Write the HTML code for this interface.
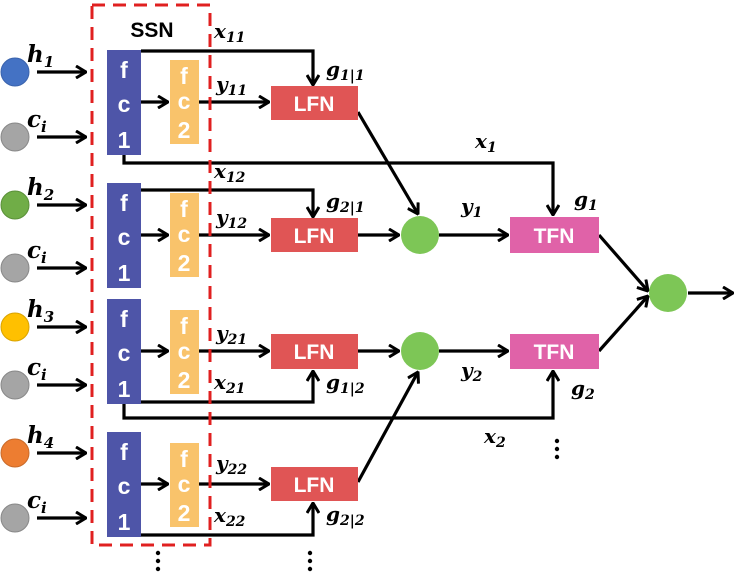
<!DOCTYPE html>
<html><head><meta charset="utf-8"><style>
html,body{margin:0;padding:0;background:#fff}
svg{display:block}
.m{font-family:"DejaVu Serif","Liberation Serif",serif;font-style:italic;font-weight:bold;fill:#000}
.w{font-family:"Liberation Sans",sans-serif;font-weight:bold;fill:#fff}
</style></head><body>
<svg width="737" height="575" viewBox="0 0 737 575" xmlns="http://www.w3.org/2000/svg">
<defs>
<marker id="a" markerWidth="12" markerHeight="14" refX="11" refY="7" orient="auto" markerUnits="userSpaceOnUse">
<path d="M1,1 L11,7 L1,13" fill="none" stroke="#000" stroke-width="3"/>
</marker>
</defs>
<g stroke="#000" stroke-width="3.2" fill="none">
<line x1="37" y1="72" x2="86" y2="72" marker-end="url(#a)"/>
<line x1="37" y1="137" x2="86" y2="137" marker-end="url(#a)"/>
<line x1="37" y1="205" x2="86" y2="205" marker-end="url(#a)"/>
<line x1="37" y1="268" x2="86" y2="268" marker-end="url(#a)"/>
<line x1="37" y1="327" x2="86" y2="327" marker-end="url(#a)"/>
<line x1="37" y1="385" x2="86" y2="385" marker-end="url(#a)"/>
<line x1="37" y1="453" x2="86" y2="453" marker-end="url(#a)"/>
<line x1="37" y1="518" x2="86" y2="518" marker-end="url(#a)"/>
<line x1="141" y1="102" x2="168" y2="102" marker-end="url(#a)"/>
<line x1="141" y1="235" x2="168" y2="235" marker-end="url(#a)"/>
<line x1="141" y1="351" x2="168" y2="351" marker-end="url(#a)"/>
<line x1="141" y1="484" x2="168" y2="484" marker-end="url(#a)"/>
<line x1="199" y1="102" x2="269" y2="102" marker-end="url(#a)"/>
<line x1="199" y1="235" x2="269" y2="235" marker-end="url(#a)"/>
<line x1="199" y1="351" x2="269" y2="351" marker-end="url(#a)"/>
<line x1="199" y1="484" x2="269" y2="484" marker-end="url(#a)"/>
<polyline points="141,51 313,51 313,85" marker-end="url(#a)"/>
<polyline points="141,190 313,190 313,217" marker-end="url(#a)"/>
<polyline points="141,402 313,402 313,371" marker-end="url(#a)"/>
<polyline points="141,535 313,535 313,503" marker-end="url(#a)"/>
<polyline points="124,155 124,163 553,163 553,215" marker-end="url(#a)"/>
<polyline points="124,404 124,418 553,418 553,371" marker-end="url(#a)"/>
<line x1="358" y1="112" x2="418" y2="214" marker-end="url(#a)"/>
<line x1="358" y1="235" x2="399" y2="235" marker-end="url(#a)"/>
<line x1="358" y1="351" x2="399" y2="351" marker-end="url(#a)"/>
<line x1="358" y1="482" x2="418" y2="372" marker-end="url(#a)"/>
<line x1="439" y1="235" x2="508" y2="235" marker-end="url(#a)"/>
<line x1="439" y1="351" x2="508" y2="351" marker-end="url(#a)"/>
<line x1="599" y1="235" x2="648" y2="291" marker-end="url(#a)"/>
<line x1="599" y1="351" x2="648" y2="296" marker-end="url(#a)"/>
<line x1="688" y1="293" x2="733" y2="293" marker-end="url(#a)"/>
</g>
<rect x="92" y="5" width="118" height="540" fill="none" stroke="#e02020" stroke-width="3" stroke-dasharray="13,8"/>
<text x="152" y="37" text-anchor="middle" font-family="Liberation Sans,sans-serif" font-weight="bold" font-size="21">SSN</text>
<circle cx="15" cy="72" r="14" fill="#4472c4" stroke="#3a63ad"/>
<circle cx="15" cy="137" r="14" fill="#a5a5a5" stroke="#888"/>
<circle cx="15" cy="205" r="14" fill="#70ad47" stroke="#5a9038"/>
<circle cx="15" cy="268" r="14" fill="#a5a5a5" stroke="#888"/>
<circle cx="15" cy="327" r="14" fill="#ffc000" stroke="#d9a300"/>
<circle cx="15" cy="385" r="14" fill="#a5a5a5" stroke="#888"/>
<circle cx="15" cy="453" r="14" fill="#ed7d31" stroke="#c96a29"/>
<circle cx="15" cy="518" r="14" fill="#a5a5a5" stroke="#888"/>
<g class="m" font-size="23">
<text x="27" y="62">h<tspan font-size="15" dy="5">1</tspan></text>
<text x="27" y="127">c<tspan font-size="15" dy="5">i</tspan></text>
<text x="27" y="195">h<tspan font-size="15" dy="5">2</tspan></text>
<text x="27" y="258">c<tspan font-size="15" dy="5">i</tspan></text>
<text x="27" y="317">h<tspan font-size="15" dy="5">3</tspan></text>
<text x="27" y="375">c<tspan font-size="15" dy="5">i</tspan></text>
<text x="27" y="443">h<tspan font-size="15" dy="5">4</tspan></text>
<text x="27" y="508">c<tspan font-size="15" dy="5">i</tspan></text>
</g>
<g fill="#4e55a8">
<rect x="107" y="50" width="34" height="105"/>
<rect x="107" y="183" width="34" height="105"/>
<rect x="107" y="299" width="34" height="105"/>
<rect x="107" y="432" width="34" height="105"/>
</g>
<g fill="#f9c36b">
<rect x="170" y="60" width="29" height="84"/>
<rect x="170" y="193" width="29" height="84"/>
<rect x="170" y="310" width="29" height="84"/>
<rect x="170" y="443" width="29" height="84"/>
</g>
<g class="w" font-size="23" text-anchor="middle">
<text x="124" y="78">f</text><text x="124" y="112">c</text><text x="124" y="148">1</text>
<text x="124" y="211">f</text><text x="124" y="245">c</text><text x="124" y="281">1</text>
<text x="124" y="327">f</text><text x="124" y="361">c</text><text x="124" y="397">1</text>
<text x="124" y="460">f</text><text x="124" y="494">c</text><text x="124" y="530">1</text>
<text x="184" y="84">f</text><text x="184" y="109">c</text><text x="184" y="138">2</text>
<text x="184" y="217">f</text><text x="184" y="242">c</text><text x="184" y="271">2</text>
<text x="184" y="334">f</text><text x="184" y="359">c</text><text x="184" y="388">2</text>
<text x="184" y="467">f</text><text x="184" y="492">c</text><text x="184" y="521">2</text>
</g>
<g fill="#e05555">
<rect x="271" y="86" width="87" height="34"/>
<rect x="271" y="218" width="87" height="34"/>
<rect x="271" y="334" width="87" height="35"/>
<rect x="271" y="467" width="87" height="34"/>
</g>
<g class="w" font-size="21" text-anchor="middle">
<text x="314" y="111">LFN</text><text x="314" y="243">LFN</text>
<text x="314" y="359">LFN</text><text x="314" y="492">LFN</text>
</g>
<g fill="#e062a8">
<rect x="510" y="217" width="89" height="36"/>
<rect x="510" y="334" width="89" height="35"/>
</g>
<g class="w" font-size="21" text-anchor="middle">
<text x="554" y="243">TFN</text><text x="554" y="359">TFN</text>
</g>
<circle cx="420" cy="235" r="19" fill="#7dc656"/>
<circle cx="420" cy="351" r="19" fill="#7dc656"/>
<circle cx="668" cy="293" r="19" fill="#7dc656"/>
<g class="m" font-size="20">
<text x="214" y="38">x<tspan font-size="14" dy="4">11</tspan></text>
<text x="216" y="91">y<tspan font-size="14" dy="4">11</tspan></text>
<text x="326" y="76">g<tspan font-size="14" dy="4">1|1</tspan></text>
<text x="214" y="178">x<tspan font-size="14" dy="4">12</tspan></text>
<text x="216" y="224">y<tspan font-size="14" dy="4">12</tspan></text>
<text x="326" y="208">g<tspan font-size="14" dy="4">2|1</tspan></text>
<text x="216" y="340">y<tspan font-size="14" dy="4">21</tspan></text>
<text x="214" y="389">x<tspan font-size="14" dy="4">21</tspan></text>
<text x="326" y="389">g<tspan font-size="14" dy="4">1|2</tspan></text>
<text x="216" y="470">y<tspan font-size="14" dy="4">22</tspan></text>
<text x="214" y="522">x<tspan font-size="14" dy="4">22</tspan></text>
<text x="326" y="521">g<tspan font-size="14" dy="4">2|2</tspan></text>
<text x="475" y="148">x<tspan font-size="14" dy="4">1</tspan></text>
<text x="461" y="213">y<tspan font-size="14" dy="4">1</tspan></text>
<text x="574" y="206">g<tspan font-size="14" dy="4">1</tspan></text>
<text x="461" y="377">y<tspan font-size="14" dy="4">2</tspan></text>
<text x="571" y="395">g<tspan font-size="14" dy="4">2</tspan></text>
<text x="484" y="443">x<tspan font-size="14" dy="4">2</tspan></text>
</g>
<g fill="#000">
<circle cx="557" cy="441" r="2.2"/><circle cx="557" cy="449" r="2.2"/><circle cx="557" cy="457" r="2.2"/>
<circle cx="310" cy="553" r="2.2"/><circle cx="310" cy="561" r="2.2"/><circle cx="310" cy="569" r="2.2"/>
<circle cx="158" cy="553" r="2.2"/><circle cx="158" cy="561" r="2.2"/><circle cx="158" cy="569" r="2.2"/>
</g>
</svg>
</body></html>
